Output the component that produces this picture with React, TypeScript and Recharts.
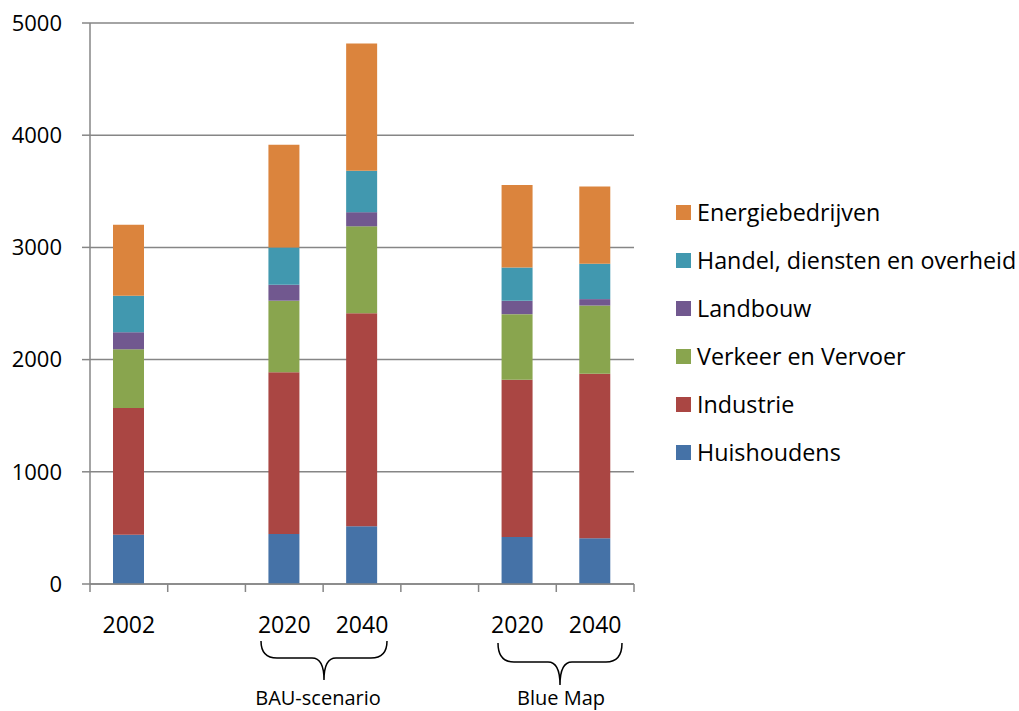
import React from "react"
import { BarChart, Bar, XAxis, YAxis, CartesianGrid } from "recharts"

const categories = ["2002", "", "2020", "2040", "", "2020", "2040"]
const huishoudens = [439, null, 446, 515, null, 420, 408]
const industrie = [1129, null, 1442, 1898, null, 1401, 1467]
const verkeer = [524, null, 637, 775, null, 584, 607]
const landbouw = [152, null, 142, 126, null, 119, 57]
const handel = [324, null, 333, 369, null, 297, 315]
const energie = [633, null, 914, 1135, null, 736, 688]
const yTicks = [0, 1000, 2000, 3000, 4000, 5000]

const series = [
  { key: "huishoudens", name: "Huishoudens", color: "#4572A7", values: huishoudens },
  { key: "industrie", name: "Industrie", color: "#AA4643", values: industrie },
  { key: "verkeer", name: "Verkeer en Vervoer", color: "#89A54E", values: verkeer },
  { key: "landbouw", name: "Landbouw", color: "#71588F", values: landbouw },
  { key: "handel", name: "Handel, diensten en overheid", color: "#4198AF", values: handel },
  { key: "energie", name: "Energiebedrijven", color: "#DB843D", values: energie },
]

const chartData = categories.map((label, i) => {
  const row: Record<string, any> = { id: `c${i}`, label }
  for (const s of series) row[s.key] = s.values[i]
  return row
})

const FONT = "'Open Sans', sans-serif"
const W = 1019
const H = 711
const MARGIN = { top: 23, right: 385, bottom: 67, left: 0 }
const Y_W = 90
const BAND = (W - MARGIN.right - MARGIN.left - Y_W) / categories.length
const AXIS = "#868686"

function XTick(props: any) {
  const { x, y, index } = props
  const label = categories[index] ?? ""
  const left = x - BAND / 2
  return (
    <g>
      <line x1={left} x2={left} y1={y} y2={y + 8} stroke={AXIS} strokeWidth={1.5} />
      {index === categories.length - 1 && (
        <line x1={x + BAND / 2} x2={x + BAND / 2} y1={y} y2={y + 8} stroke={AXIS} strokeWidth={1.5} />
      )}
      <text x={x} y={y + 49} textAnchor="middle" fontSize={23} fontFamily={FONT} fill="#000">
        {label}
      </text>
    </g>
  )
}

// legend drawn outside the chart so it doesn't eat plot space
function LegendBox() {
  return (
    <div style={{ position: "absolute", left: 676, top: 188, fontFamily: FONT, fontSize: 23.3, color: "#000" }}>
      {[...series].reverse().map((s) => (
        <div key={s.key} style={{ display: "flex", alignItems: "center", height: 48, whiteSpace: "nowrap" }}>
          <span style={{ width: 15, height: 15, background: s.color, marginRight: 6, display: "inline-block" }} />
          {s.name}
        </div>
      ))}
    </div>
  )
}

function brace(l: number, r: number, top: number, mid: number, tip: number) {
  const c = (l + r) / 2
  return `M ${l} ${top} Q ${l} ${mid} ${l + 16} ${mid} L ${c - 12} ${mid} Q ${c} ${mid} ${c} ${tip} Q ${c} ${mid} ${c + 12} ${mid} L ${r - 16} ${mid} Q ${r} ${mid} ${r} ${top}`
}

export default function App() {
  return (
    <div style={{ position: "absolute", left: 0, top: 0, width: W, height: H, background: "#fff" }}>
      <BarChart width={W} height={H} data={chartData} margin={MARGIN} barSize={31}>
        <CartesianGrid horizontal vertical={false} stroke={AXIS} strokeWidth={1.5} />
        <XAxis
          dataKey="id"
          height={60}
          tickLine={false}
          tickSize={0}
          tickMargin={0}
          axisLine={{ stroke: AXIS, strokeWidth: 1.5 }}
          tick={<XTick />}
          interval={0}
        />
        <YAxis
          width={Y_W}
          domain={[0, 5000]}
          ticks={yTicks}
          tickSize={8}
          tickMargin={20}
          tickLine={{ stroke: AXIS, strokeWidth: 1.5 }}
          axisLine={{ stroke: AXIS, strokeWidth: 1.5 }}
          tick={{ fill: "#000", fontSize: 22, fontFamily: FONT }}
        />
        {series.map((s) => (
          <Bar key={s.key} dataKey={s.key} name={s.name} stackId="a" fill={s.color} isAnimationActive={false} />
        ))}
      </BarChart>
      <LegendBox />
      <svg width={W} height={H} style={{ position: "absolute", left: 0, top: 0, pointerEvents: "none" }}>
        <path d={brace(261, 387, 641, 658, 680)} fill="none" stroke="#000" strokeWidth={1.5} />
        <path d={brace(498, 622, 643, 662, 685)} fill="none" stroke="#000" strokeWidth={1.5} />
        <text x={318} y={705} textAnchor="middle" fontSize={20} fontFamily={FONT} fill="#000">
          BAU-scenario
        </text>
        <text x={561} y={705} textAnchor="middle" fontSize={20} fontFamily={FONT} fill="#000">
          Blue Map
        </text>
      </svg>
    </div>
  )
}
